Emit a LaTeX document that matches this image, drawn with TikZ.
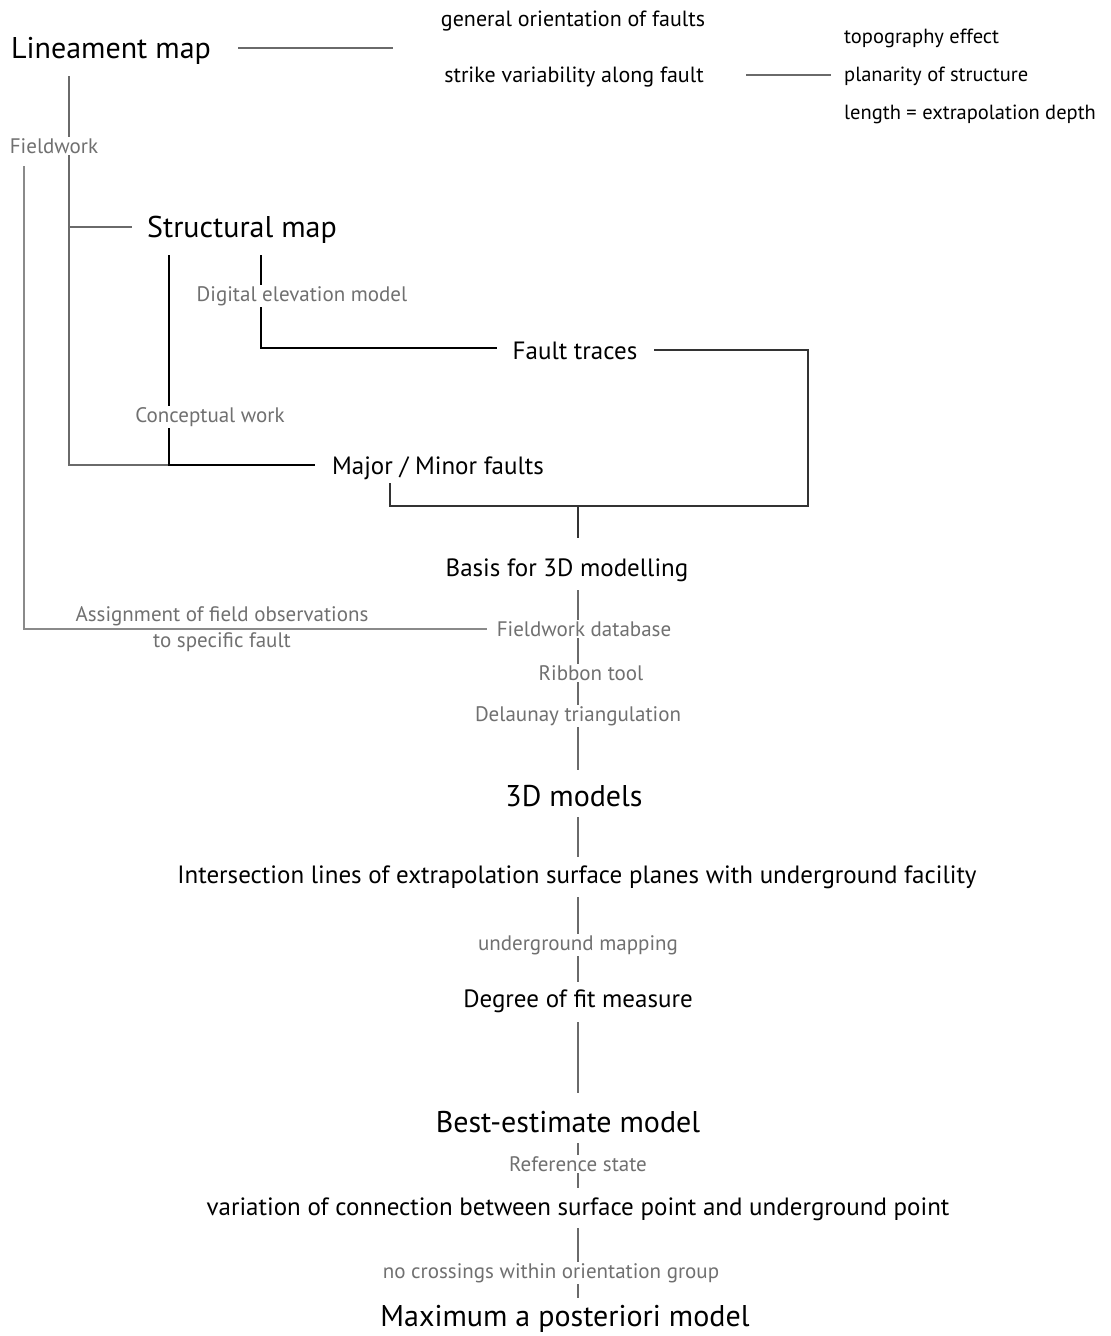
\documentclass[tikz,border=0pt]{standalone}
\usepackage{fontspec}
\setmainfont{PT Sans}
\usetikzlibrary{backgrounds}
\definecolor{lblgray}{HTML}{707070}
\definecolor{lngray}{HTML}{6A6A6A}
\definecolor{lnlight}{HTML}{8A8A8A}
\definecolor{lndark}{HTML}{333333}
\tikzset{
  big/.style={font=\fontsize{30}{33}\selectfont, inner sep=1pt, yshift=-3.3pt},
  mid/.style={font=\fontsize{25}{28}\selectfont, inner sep=1pt, yshift=-2.8pt},
  small/.style={font=\fontsize{22}{25}\selectfont, inner sep=1pt, yshift=-2.4pt},
  side/.style={font=\fontsize{20.5}{24}\selectfont, inner sep=1pt, yshift=-2.3pt, anchor=west},
  lbl/.style={font=\fontsize{21}{26}\selectfont, text=lblgray, fill=white, inner sep=1.5pt, yshift=-2.3pt},
  ln/.style={draw=lngray, line width=1.2pt},
  lnl/.style={draw=lnlight, line width=1.2pt},
  lnd/.style={draw=lndark, line width=1.2pt},
  lnb/.style={draw=black, line width=1.1pt},
}
\begin{document}
\begin{tikzpicture}[x=1pt,y=-1pt]
\useasboundingbox (0,0) rectangle (1111,1336);
% main nodes
\node[big] (lin) at (111,48) {Lineament map};
\node[small] (gen) at (573,19) {general orientation of faults};
\node[small] (strike) at (574,75) {strike variability along fault};
\node[side] (topo) at (843,36) {topography effect};
\node[side] (plan) at (843,74) {planarity of structure};
\node[side] (len) at (843,112) {length = extrapolation depth};
\node[lbl] (field) at (54,144) {Fieldwork};
\node[big] (struct) at (242,227) {Structural map};
\node[lbl] (dem) at (302,294) {Digital elevation model};
\node[mid] (fault) at (575,348) {Fault traces};
\node[lbl] (concept) at (210,415) {Conceptual work};
\node[mid] (major) at (438,465) {Major / Minor faults};
\node[mid] (basis) at (567,567) {Basis for 3D modelling};
\node[lbl,fill=none,align=center] (assign) at (222,627) {Assignment of field observations\\to specific fault};
\node[lbl] (fdb) at (584,627) {Fieldwork database};
\node[lbl] (ribbon) at (591,671) {Ribbon tool};
\node[lbl] (delaunay) at (578,714) {Delaunay triangulation};
\node[big] (models) at (574,793) {3D models};
\node[mid] (inter) at (577,874) {Intersection lines of extrapolation surface planes with underground facility};
\node[lbl] (ugm) at (578,943) {underground mapping};
\node[mid] (degree) at (578,998) {Degree of fit measure};
\node[big] (best) at (568,1119) {Best-estimate model};
\node[lbl] (refstate) at (578,1162) {Reference state};
\node[mid] (variation) at (578,1206) {variation of connection between surface point and underground point};
\node[lbl] (nocross) at (551,1271) {no crossings within orientation group};
\node[big] (maxpost) at (565,1316) {Maximum a posteriori model};
% junction coordinates
\coordinate (a1) at (238,48);  \coordinate (a2) at (393,48);
\coordinate (b1) at (746,75);  \coordinate (b2) at (831,75);
\coordinate (c0) at (69,76);   \coordinate (c1) at (69,227); \coordinate (c2) at (132,227);
\coordinate (c3) at (69,465);  \coordinate (c4) at (169,465);
\coordinate (d0) at (169,255); \coordinate (d1) at (315,465);
\coordinate (e0) at (261,255); \coordinate (e1) at (261,348); \coordinate (e2) at (497,348);
\coordinate (f0) at (654,350); \coordinate (f1) at (808,350); \coordinate (f2) at (808,506);
\coordinate (f3) at (390,506); \coordinate (f4) at (390,483); \coordinate (f5) at (578,506);
\coordinate (f6) at (578,538);
\coordinate (g0) at (24,166);  \coordinate (g1) at (24,629);  \coordinate (g2) at (487,629);
\coordinate (h0) at (578,590); \coordinate (h1) at (578,770);
\coordinate (h2) at (578,817); \coordinate (h3) at (578,857);
\coordinate (h4) at (578,897); \coordinate (h5) at (578,982);
\coordinate (h6) at (578,1022); \coordinate (h7) at (578,1093);
\coordinate (h8) at (578,1143); \coordinate (h9) at (578,1188);
\coordinate (h10) at (578,1228); \coordinate (h11) at (578,1298);
\begin{scope}[on background layer]
\draw[ln] (a1) -- (a2);
\draw[ln] (b1) -- (b2);
\draw[ln] (c0) -- (c1) -- (c3) -- (c4);
\draw[ln] (c1) -- (c2);
\draw[lnb] (d0) -- (c4) -- (d1);
\draw[lnb] (e0) -- (e1) -- (e2);
\draw[lnd] (f0) -- (f1) -- (f2) -- (f3) -- (f4);
\draw[lnd] (f5) -- (f6);
\draw[lnl] (g0) -- (g1) -- (g2);
\draw[ln] (h0) -- (h1);
\draw[ln] (h2) -- (h3);
\draw[ln] (h4) -- (h5);
\draw[ln] (h6) -- (h7);
\draw[ln] (h8) -- (h9);
\draw[ln] (h10) -- (h11);
\end{scope}
\end{tikzpicture}
\end{document}
